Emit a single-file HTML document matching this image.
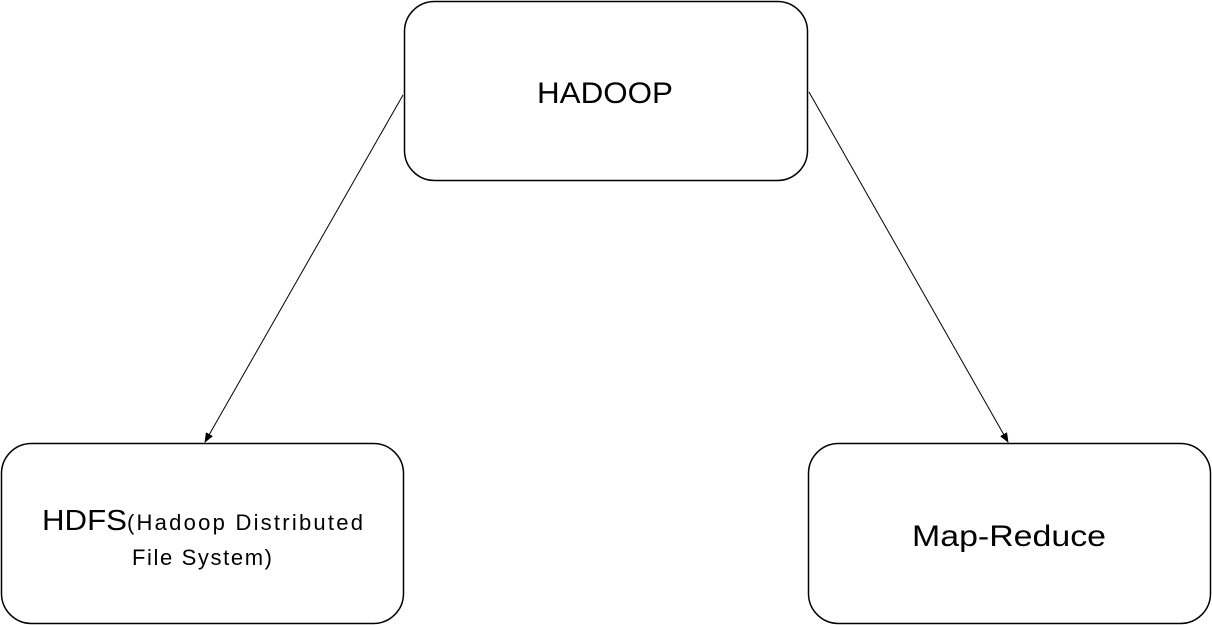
<!DOCTYPE html>
<html><head><meta charset="utf-8"><style>
html,body{margin:0;padding:0;background:#fff;}
svg{display:block;font-family:"Liberation Sans",sans-serif;}
</style></head><body>
<svg width="1212" height="625" viewBox="0 0 1212 625" xmlns="http://www.w3.org/2000/svg">
<defs><marker id="a" markerWidth="10" markerHeight="10" refX="9" refY="5" orient="auto" markerUnits="userSpaceOnUse"><path d="M0,1 L10,5 L0,9 z" fill="#000"/></marker></defs>
<rect x="404.5" y="1.5" width="403" height="179" rx="30" fill="#fff" stroke="#000" stroke-width="1.5"/>
<rect x="1.5" y="443.5" width="402" height="180" rx="30" fill="#fff" stroke="#000" stroke-width="1.5"/>
<rect x="808.5" y="443.5" width="402" height="180" rx="30" fill="#fff" stroke="#000" stroke-width="1.5"/>
<line x1="403" y1="95" x2="205" y2="442" stroke="#000" stroke-width="1" marker-end="url(#a)"/>
<line x1="809" y1="92" x2="1008" y2="442" stroke="#000" stroke-width="1" marker-end="url(#a)"/>
<text x="537" y="103" font-size="30" textLength="136" lengthAdjust="spacingAndGlyphs">HADOOP</text>
<text x="912" y="546" font-size="30" textLength="194" lengthAdjust="spacingAndGlyphs">Map-Reduce</text>
<text x="42" y="530" font-size="29" textLength="85" lengthAdjust="spacingAndGlyphs">HDFS</text>
<text x="127" y="530" font-size="22" textLength="236" lengthAdjust="spacing">(Hadoop Distributed</text>
<text x="132" y="565" font-size="22" textLength="140" lengthAdjust="spacing">File System)</text>
</svg>
</body></html>
